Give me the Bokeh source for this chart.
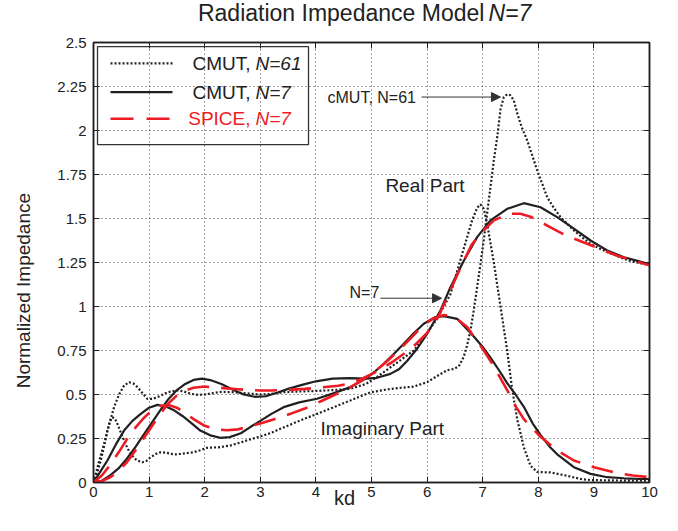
from bokeh.plotting import figure
from bokeh.layouts import column
from bokeh.models import (Label, Arrow, NormalHead, BoxAnnotation, LinearAxis,
                          FixedTicker, Range1d)
from bokeh.core.properties import value
from bokeh.embed import file_html
from bokeh.resources import INLINE

# ---------------- data ----------------
x_ticks = [0, 1, 2, 3, 4, 5, 6, 7, 8, 9, 10]
y_ticks = [0, 0.25, 0.5, 0.75, 1, 1.25, 1.5, 1.75, 2, 2.25, 2.5]
y_tick_labels = ["0", "0.25", "0.5", "0.75", "1", "1.25", "1.5", "1.75", "2", "2.25", "2.5"]

# CMUT, N=7 real part (solid black)
re7_kd = [0, 0.15, 0.3, 0.45, 0.6, 0.75, 0.9, 1.05, 1.2, 1.35, 1.5, 1.65, 1.8, 1.95, 2.1, 2.3,
          2.5, 2.7, 2.9, 3.1, 3.3, 3.5, 3.75, 4.0, 4.3, 4.6, 4.9, 5.1, 5.34, 5.5, 5.64, 5.82,
          6.0, 6.24, 6.42, 6.66, 6.9, 7.14, 7.44, 7.74, 8.04, 8.34, 8.64, 8.94, 9.24, 9.54, 9.8, 10]
re7 = [0, 0.01, 0.04, 0.08, 0.135, 0.2, 0.27, 0.34, 0.41, 0.475, 0.525, 0.56, 0.583, 0.59, 0.582, 0.56,
       0.528, 0.5, 0.487, 0.49, 0.51, 0.532, 0.555, 0.575, 0.59, 0.593, 0.59, 0.595, 0.617, 0.645, 0.69, 0.76,
       0.845, 0.977, 1.11, 1.26, 1.394, 1.489, 1.555, 1.587, 1.564, 1.508, 1.442, 1.375, 1.318, 1.28, 1.258, 1.24]

# CMUT, N=7 imaginary part (solid black)
im7_kd = [0, 0.1, 0.25, 0.4, 0.55, 0.7, 0.85, 1.0, 1.15, 1.3, 1.45, 1.6, 1.75, 1.92, 2.1, 2.28,
          2.45, 2.65, 2.82, 3.0, 3.2, 3.42, 3.7, 4.02, 4.3, 4.62, 4.89, 5.05, 5.22, 5.4, 5.58, 5.76,
          5.94, 6.15, 6.3, 6.54, 6.84, 7.0, 7.14, 7.3, 7.44, 7.59, 7.74, 7.9, 8.04, 8.2, 8.34, 8.64,
          8.94, 9.24, 9.54, 9.84, 10]
im7 = [0, 0.05, 0.125, 0.215, 0.295, 0.35, 0.39, 0.425, 0.441, 0.432, 0.41, 0.378, 0.34, 0.295, 0.268, 0.254,
       0.258, 0.28, 0.315, 0.35, 0.39, 0.428, 0.455, 0.476, 0.505, 0.542, 0.589, 0.628, 0.674, 0.73, 0.788, 0.848,
       0.902, 0.94, 0.945, 0.93, 0.83, 0.77, 0.71, 0.635, 0.565, 0.5, 0.43, 0.335, 0.27, 0.205, 0.16, 0.087,
       0.049, 0.03, 0.024, 0.02, 0.02]

# SPICE, N=7 real part (red dashed)
sre_kd = [0, 0.15, 0.3, 0.45, 0.6, 0.75, 0.9, 1.05, 1.2, 1.35, 1.5, 1.65, 1.8, 2.0, 2.2, 2.4, 2.6, 2.8,
          3.0, 3.2, 3.5, 3.8, 4.1, 4.4, 4.6, 4.8, 5.0, 5.2, 5.4, 5.6, 5.8, 6.0, 6.2, 6.4, 6.6, 6.8,
          6.96, 7.2, 7.47, 7.68, 7.86, 8.04, 8.22, 8.52, 8.82, 9.12, 9.42, 9.72, 10]
sre = [0, 0.008, 0.03, 0.065, 0.115, 0.18, 0.25, 0.32, 0.39, 0.45, 0.495, 0.523, 0.538, 0.545, 0.54, 0.535,
       0.53, 0.525, 0.523, 0.523, 0.526, 0.532, 0.54, 0.55, 0.562, 0.585, 0.615, 0.65, 0.69, 0.735, 0.787,
       0.85, 0.94, 1.08, 1.22, 1.35, 1.415, 1.489, 1.527, 1.527, 1.51, 1.48, 1.45, 1.40, 1.364, 1.326, 1.288,
       1.26, 1.235]

# SPICE, N=7 imaginary part (red dashed)
sim_kd = [0, 0.15, 0.3, 0.45, 0.6, 0.75, 0.9, 1.05, 1.2, 1.35, 1.5, 1.65, 1.8, 2.0, 2.2, 2.4, 2.6, 2.8,
          3.0, 3.25, 3.54, 3.8, 4.08, 4.35, 4.62, 4.85, 5.07, 5.3, 5.52, 5.72, 5.91, 6.1, 6.3, 6.5, 6.72,
          7.02, 7.2, 7.44, 7.6, 7.74, 8.04, 8.34, 8.64, 9.0, 9.42, 9.7, 10]
sim = [0, 0.04, 0.1, 0.17, 0.245, 0.31, 0.365, 0.41, 0.435, 0.44, 0.425, 0.395, 0.36, 0.322, 0.302, 0.297,
       0.302, 0.318, 0.335, 0.36, 0.39, 0.42, 0.46, 0.5, 0.542, 0.585, 0.633, 0.695, 0.76, 0.825, 0.887,
       0.93, 0.952, 0.94, 0.883, 0.75, 0.66, 0.525, 0.43, 0.36, 0.26, 0.182, 0.125, 0.087, 0.053, 0.04, 0.03]

# CMUT, N=61 real part (dotted)
re61_kd = [0, 0.06, 0.13, 0.2, 0.25, 0.3, 0.34, 0.39, 0.43, 0.49, 0.55, 0.61, 0.67, 0.73, 0.79, 0.88,
           0.95, 1.03, 1.12, 1.2, 1.3, 1.39, 1.48, 1.57, 1.7, 1.8, 1.92, 2.04, 2.25, 2.46, 2.65, 2.82,
           3.0, 3.18, 3.36, 3.7, 4.02, 4.3, 4.62, 4.8, 4.98, 5.3, 5.5, 5.76, 6.0, 6.18, 6.36, 6.48,
           6.57, 6.66, 6.72, 6.78, 6.84, 6.9, 6.96, 7.02, 7.08, 7.14, 7.2, 7.26, 7.32, 7.38, 7.44, 7.5,
           7.56, 7.62, 7.7, 7.8, 7.9, 7.98, 8.08, 8.16, 8.28, 8.4, 8.52, 8.64, 8.8, 8.94, 9.1, 9.24,
           9.4, 9.54, 9.7, 9.9, 10]
re61 = [0, 0.05, 0.125, 0.22, 0.295, 0.35, 0.371, 0.36, 0.333, 0.285, 0.239, 0.195, 0.163, 0.14, 0.125, 0.115,
        0.122, 0.144, 0.162, 0.172, 0.17, 0.163, 0.16, 0.163, 0.168, 0.172, 0.183, 0.197, 0.2, 0.21, 0.228, 0.245,
        0.262, 0.28, 0.305, 0.35, 0.39, 0.425, 0.466, 0.49, 0.512, 0.53, 0.537, 0.545, 0.57, 0.605, 0.638, 0.645,
        0.66, 0.715, 0.78, 0.863, 0.98, 1.11, 1.24, 1.38, 1.53, 1.68, 1.83, 1.96, 2.12, 2.19, 2.205, 2.2,
        2.17, 2.1, 2.02, 1.944, 1.85, 1.773, 1.69, 1.621, 1.56, 1.508, 1.47, 1.432, 1.39, 1.356, 1.33, 1.309,
        1.29, 1.271, 1.255, 1.242, 1.235]

# CMUT, N=61 imaginary part (dotted)
im61_kd = [0, 0.05, 0.1, 0.19, 0.28, 0.37, 0.46, 0.55, 0.64, 0.72, 0.79, 0.88, 0.97, 1.06, 1.15, 1.25,
           1.33, 1.5, 1.62, 1.75, 1.88, 2.0, 2.15, 2.3, 2.5, 2.7, 3.0, 3.2, 3.42, 3.7, 4.0, 4.3, 4.62,
           4.9, 5.1, 5.3, 5.5, 5.76, 6.0, 6.18, 6.42, 6.66, 6.81, 6.9, 6.96, 7.02, 7.08, 7.2, 7.32, 7.44,
           7.53, 7.62, 7.74, 7.86, 7.98, 8.22, 8.52, 8.76, 8.94, 9.3, 9.7, 10]
im61 = [0, 0.06, 0.12, 0.22, 0.33, 0.428, 0.5, 0.551, 0.57, 0.562, 0.542, 0.508, 0.475, 0.475, 0.485, 0.5,
        0.513, 0.523, 0.518, 0.504, 0.498, 0.5, 0.508, 0.515, 0.513, 0.508, 0.5, 0.503, 0.513, 0.517, 0.52, 0.525, 0.532,
        0.56, 0.6, 0.645, 0.69, 0.75, 0.85, 0.93, 1.07, 1.33, 1.49, 1.56, 1.58, 1.555, 1.47, 1.25, 1.0, 0.75,
        0.53, 0.36, 0.2, 0.095, 0.06, 0.057, 0.038, 0.02, 0.014, 0.012, 0.01, 0.01]

# positions of the axis titles along their axes (data units)
xlabel_at = 4.514
ylabel_at = 1.09

FONT = "Liberation Sans"
BLACK = "#231f20"
TXT = "#222222"
RED = "#ed1c24"
W = 670

# ---------------- title strip ----------------
tf = figure(width=W, height=34, x_range=Range1d(0, W), y_range=Range1d(0, 34),
            output_backend="svg", toolbar_location=None, min_border=0,
            x_axis_location=None, y_axis_location=None)
tf.outline_line_color = None
tf.grid.visible = False
tf.text(x=[471], y=[22], text=["Radiation Impedance Model"], text_align="right",
        text_baseline="middle", text_font=value(FONT), text_font_size=value("23px"), text_color=TXT)
tf.text(x=[476], y=[22], text=["N=7"], text_align="left", text_baseline="middle",
        text_font=value(FONT), text_font_size=value("23px"), text_color=TXT,
        text_font_style="italic")

# ---------------- main plot ----------------
p = figure(frame_width=556, frame_height=440, x_range=Range1d(0, 10), y_range=Range1d(0, 2.5),
           output_backend="svg", toolbar_location=None,
           min_border_left=93, min_border_right=21, min_border_top=8, min_border_bottom=41)
p.background_fill_color = "white"
p.outline_line_color = BLACK
p.outline_line_width = 1.5

p.xaxis.ticker = FixedTicker(ticks=x_ticks)
p.yaxis.ticker = FixedTicker(ticks=y_ticks)
p.yaxis.major_label_overrides = {float(t): s for t, s in zip(y_ticks, y_tick_labels)}
for ax in (p.xaxis[0], p.yaxis[0]):
    ax.major_tick_in = 6
    ax.major_tick_out = 0
    ax.minor_tick_line_color = None
    ax.axis_line_color = BLACK
    ax.axis_line_width = 1.5
    ax.major_tick_line_color = BLACK
    ax.major_label_text_font = FONT
    ax.major_label_text_font_size = "15px"
    ax.major_label_text_color = TXT
p.xaxis.major_label_standoff = 4
p.yaxis.major_label_standoff = 7

for side, tick in (("right", y_ticks), ("above", x_ticks)):
    ax = LinearAxis(ticker=FixedTicker(ticks=tick), major_tick_in=6, major_tick_out=0,
                    minor_tick_line_color=None, major_label_text_font_size="1px",
                    major_label_text_color=None, major_label_standoff=0,
                    axis_line_color=BLACK, axis_line_width=1.5, major_tick_line_color=BLACK)
    p.add_layout(ax, side)

# axis titles as the single label of label-only axes (no ticks, no line)
xlab = LinearAxis(ticker=FixedTicker(ticks=[xlabel_at]), major_label_overrides={xlabel_at: "kd"},
                  axis_line_color=None, major_tick_line_color=None, minor_tick_line_color=None,
                  major_tick_in=0, major_tick_out=0, major_label_standoff=-13,
                  major_label_text_font=FONT, major_label_text_font_size="20px",
                  major_label_text_color=TXT)
p.add_layout(xlab, "below")
ylab = LinearAxis(ticker=FixedTicker(ticks=[ylabel_at]),
                  major_label_overrides={ylabel_at: "Normalized Impedance"},
                  major_label_orientation="vertical",
                  axis_line_color=None, major_tick_line_color=None, minor_tick_line_color=None,
                  major_tick_in=0, major_tick_out=0, major_label_standoff=20,
                  major_label_text_font=FONT, major_label_text_font_size="19px",
                  major_label_text_color=TXT)
p.add_layout(ylab, "left")

p.grid.grid_line_color = "#444444"
p.grid.grid_line_dash = "1 3"
p.grid.grid_line_width = 1

# curves
p.line(re7_kd, re7, line_color=BLACK, line_width=2.2)
p.line(im7_kd, im7, line_color=BLACK, line_width=2.2)
p.line(re61_kd, re61, line_color=BLACK, line_width=2.2, line_dash="2 2")
p.line(im61_kd, im61, line_color=BLACK, line_width=2.2, line_dash="2 2")
p.line(sre_kd, sre, line_color=RED, line_width=2.6, line_dash="22 12")
p.line(sim_kd, sim, line_color=RED, line_width=2.6, line_dash="22 12")

# legend (manual, transparent box)
p.add_layout(BoxAnnotation(left=0.072, right=3.867, top=2.477, bottom=1.92,
                           fill_alpha=0, line_color="#333333", line_width=1.3, line_alpha=1))
leg_y = [2.381, 2.218, 2.067]
leg_styles = [dict(line_color=BLACK, line_width=2.2, line_dash="2 2"),
              dict(line_color=BLACK, line_width=2.2, line_dash="solid"),
              dict(line_color=RED, line_width=2.6, line_dash="23 13")]
leg_pre = ["CMUT,", "CMUT,", "SPICE,"]
leg_post = ["N=61", "N=7", "N=7"]
leg_col = [TXT, TXT, RED]
for yy, st, a, b, c in zip(leg_y, leg_styles, leg_pre, leg_post, leg_col):
    p.add_layout(Arrow(start=None, end=None, x_start=0.306, y_start=yy, x_end=1.421, y_end=yy, **st))
    p.add_layout(Label(x=2.824, y=yy, text=a, text_font=FONT, text_font_size="19px",
                       text_color=c, text_align="right", text_baseline="middle"))
    p.add_layout(Label(x=2.914, y=yy, text=b, text_font=FONT, text_font_size="19px",
                       text_color=c, text_align="left", text_baseline="middle",
                       text_font_style="italic"))

# annotations
p.add_layout(Label(x=4.209, y=2.19, text="cMUT, N=61", text_font=FONT, text_font_size="16px",
                   text_color=TXT, text_baseline="middle"))
p.add_layout(Arrow(end=NormalHead(size=9, fill_color="#333333", line_color="#333333", line_width=1),
                   x_start=5.9, y_start=2.19, x_end=7.32, y_end=2.19, line_color="#333333", line_width=1))
p.add_layout(Label(x=5.25, y=1.685, text="Real Part", text_font=FONT, text_font_size="19px",
                   text_color=TXT, text_baseline="middle"))
p.add_layout(Label(x=4.604, y=1.082, text="N=7", text_font=FONT, text_font_size="16px",
                   text_color=TXT, text_baseline="middle"))
p.add_layout(Arrow(end=NormalHead(size=9, fill_color="#333333", line_color="#333333", line_width=1),
                   x_start=5.16, y_start=1.047, x_end=6.26, y_end=1.047, line_color="#333333", line_width=1))
p.add_layout(Label(x=4.083, y=0.307, text="Imaginary Part", text_font=FONT, text_font_size="19px",
                   text_color=TXT, text_baseline="middle"))

open("out.html", "w").write(file_html(column(tf, p, spacing=0), INLINE))
